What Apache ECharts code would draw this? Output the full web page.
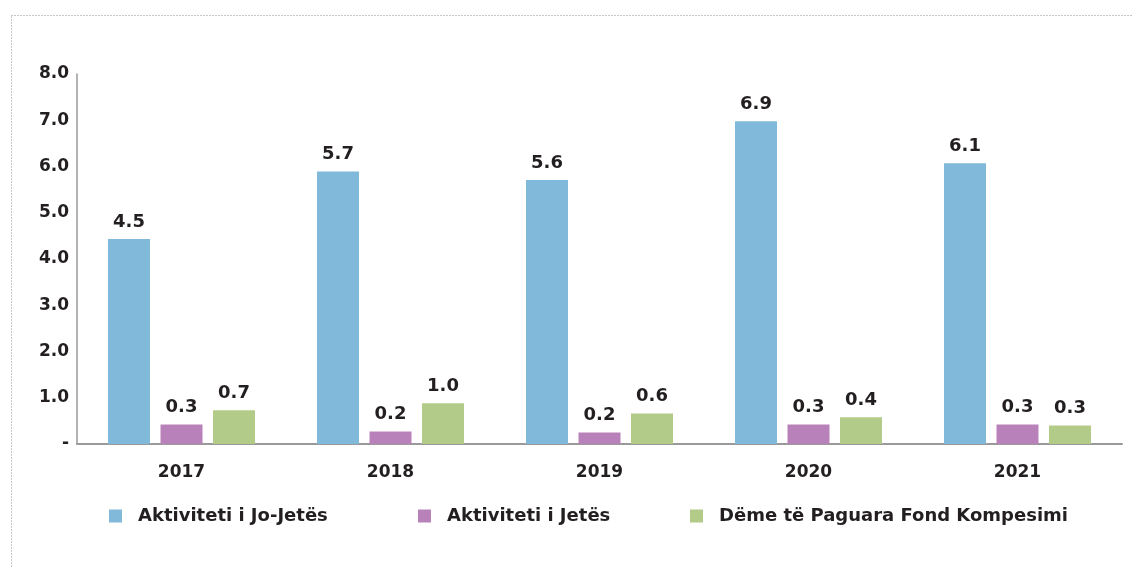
<!DOCTYPE html>
<html>
<head>
<meta charset="utf-8">
<script src="https://cdn.jsdelivr.net/npm/echarts@6/dist/echarts.min.js"></script>
<style>
  html, body { margin: 0; padding: 0; background: #fff; }
  #chart { width: 1132px; height: 567px; }
</style>
</head>
<body>
<div id="chart"></div>
<script>
const years = ['2017', '2018', '2019', '2020', '2021']
const seriesNames = ['Aktiviteti i Jo-Jetës', 'Aktiviteti i Jetës', 'Dëme të Paguara Fond Kompesimi']
// bar heights
const joJetes = [4.43, 5.89, 5.71, 6.98, 6.07]
const jetes = [0.42, 0.27, 0.25, 0.42, 0.42]
const fond = [0.73, 0.88, 0.66, 0.58, 0.40]
// printed labels (they differ slightly from the bar heights)
const joJetesLabels = ['4.5', '5.7', '5.6', '6.9', '6.1']
const jetesLabels = ['0.3', '0.2', '0.2', '0.3', '0.3']
const fondLabels = ['0.7', '1.0', '0.6', '0.4', '0.3']
const yTicks = [0, 1, 2, 3, 4, 5, 6, 7, 8]

const colors = ['#80b9d9', '#b981b9', '#b3cb89']
const font = 'DejaVu Sans'
const textColor = '#231f20'

const chart = echarts.init(document.getElementById('chart'))

function barSeries(name, data, labels, color) {
  return {
    name,
    type: 'bar',
    data,
    barWidth: 42,
    barGap: '25%',
    itemStyle: { color },
    label: {
      show: true,
      position: 'top',
      distance: 8,
      fontFamily: font,
      fontWeight: 'bold',
      fontSize: 18,
      color: textColor,
      formatter: (p) => labels[p.dataIndex]
    }
  }
}

function legendAt(name, left) {
  return {
    data: [name],
    left,
    top: 502,
    itemWidth: 13,
    itemHeight: 13,
    icon: 'rect',
    itemGap: 0,
    textStyle: { fontFamily: font, fontWeight: 'bold', fontSize: 18, color: textColor, padding: [0, 0, 0, 11] },
    selectedMode: false
  }
}

chart.setOption({
  animation: false,
  backgroundColor: '#fff',
  graphic: [
    {
      type: 'rect',
      shape: { x: 11.5, y: 15.5, width: 1200, height: 700 },
      style: { fill: 'none', stroke: '#8c8c8c', lineWidth: 1, lineDash: [1, 2] },
      silent: true
    }
  ],
  legend: [
    legendAt(seriesNames[0], 104),
    legendAt(seriesNames[1], 413),
    legendAt(seriesNames[2], 685)
  ],
  grid: { left: 77, right: 10, top: 74, bottom: 123, containLabel: false },
  xAxis: {
    type: 'category',
    data: years,
    axisLine: { lineStyle: { color: '#9a9a9a', width: 2 } },
    axisTick: { show: false },
    axisLabel: {
      margin: 20,
      fontFamily: font,
      fontWeight: 'bold',
      fontSize: 17,
      color: textColor
    }
  },
  yAxis: {
    type: 'value',
    min: yTicks[0],
    max: yTicks[yTicks.length - 1],
    interval: 1,
    axisLine: { show: true, lineStyle: { color: '#9a9a9a', width: 1.5 } },
    axisTick: { show: false },
    splitLine: { show: false },
    axisLabel: {
      margin: 8,
      padding: [5, 0, 0, 0],
      fontFamily: font,
      fontWeight: 'bold',
      fontSize: 17,
      color: textColor,
      formatter: (v) => (v === 0 ? '-' : v.toFixed(1))
    }
  },
  series: [
    barSeries(seriesNames[0], joJetes, joJetesLabels, colors[0]),
    barSeries(seriesNames[1], jetes, jetesLabels, colors[1]),
    barSeries(seriesNames[2], fond, fondLabels, colors[2])
  ]
})
</script>
</body>
</html>
